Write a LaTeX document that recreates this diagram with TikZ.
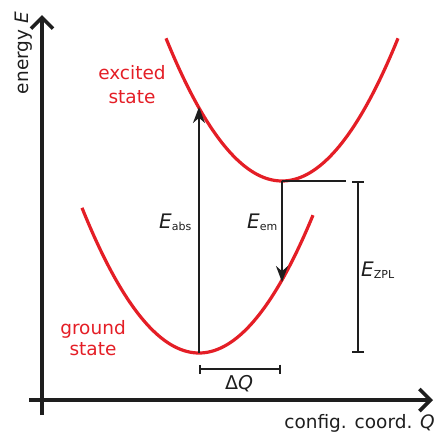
\documentclass[tikz,border=0pt]{standalone}
\usepackage{fontspec}
\setmainfont{DejaVu Sans}
\usetikzlibrary{arrows.meta}
\definecolor{curvered}{RGB}{228,30,38}
\definecolor{ink}{RGB}{30,30,30}
\tikzset{
  axis/.style={line width=3.8pt, draw=ink, -{Straight Barb[length=11pt,width=22pt,line width=3.6pt]}},
  curve/.style={line width=3.2pt, draw=curvered},
  trans/.style={line width=2.2pt, draw=ink, -{Stealth[length=16pt,width=12pt]}},
  bar/.style={line width=2.2pt, draw=ink},
  lbl/.style={font=\fontsize{18.5}{24}\selectfont, text=ink, inner sep=0pt},
  statelbl/.style={text=curvered, align=center, inner sep=0pt},
  elbl/.style={text=ink, inner sep=0pt}
}
\newcommand{\Esub}[1]{{\fontsize{20}{22}\selectfont\itshape E}\raisebox{-0.5ex}{\fontsize{11}{12}\selectfont #1}}
\begin{document}
\begin{tikzpicture}[x=1pt,y=-1pt]
\useasboundingbox (0,0) rectangle (436,434);
% axes
\coordinate (yb) at (42,415);
\coordinate (yt) at (42,15);
\coordinate (xl) at (29,400);
\coordinate (xr) at (433,400);
\draw[axis] (yb) -- (yt);
\draw[axis] (xl) -- (xr);
% curves
\draw[curve] plot[domain=-117:114, samples=80, smooth] ({199+\x}, {353-0.0106*\x*\x});
\draw[curve] plot[domain=-116:116, samples=80, smooth] ({282+\x}, {181-0.0106*\x*\x});
% key points
\coordinate (g0) at (199,353);
\coordinate (e0) at (282,181);
\coordinate (eabs) at (199,107);
\coordinate (eem) at (282,282);
\coordinate (zr) at (346,181);
\coordinate (zt) at (358,181);
\coordinate (zb) at (358,353);
\coordinate (ql) at (199,369);
\coordinate (qr) at (281,369);
% transitions
\draw[trans] (g0) -- (eabs);
\draw[trans] (e0) -- (eem);
\draw[bar] (e0) -- (zr);
\draw[bar, {Bar[width=12pt,line width=2.2pt]}-{Bar[width=12pt,line width=2.2pt]}] (zt) -- (zb);
\draw[bar, {Bar[width=9pt,line width=2.2pt]}-{Bar[width=9pt,line width=2.2pt]}] (ql) -- (qr);
% labels
\node[lbl, rotate=90] (ylab) at (24,53) {energy \textit{E}};
\node[lbl, anchor=base east] (xlab) at (435,428) {config. coord. \textit{Q}};
\node[lbl, statelbl, font=\fontsize{18.5}{24}\selectfont] (exc) at (132,85) {excited\\state};
\node[lbl, statelbl, font=\fontsize{18.5}{21}\selectfont] (gnd) at (93,338) {ground\\state};
\node[elbl, anchor=base west] (labs) at (159,228) {\Esub{abs}};
\node[elbl, anchor=base west] (lem) at (247,228) {\Esub{em}};
\node[elbl, anchor=base west] (lzpl) at (361,276) {\Esub{ZPL}};
\node[elbl, anchor=base west, font=\fontsize{19}{22}\selectfont] (ldq) at (225,389) {Δ\textit{Q}};
\end{tikzpicture}
\end{document}
